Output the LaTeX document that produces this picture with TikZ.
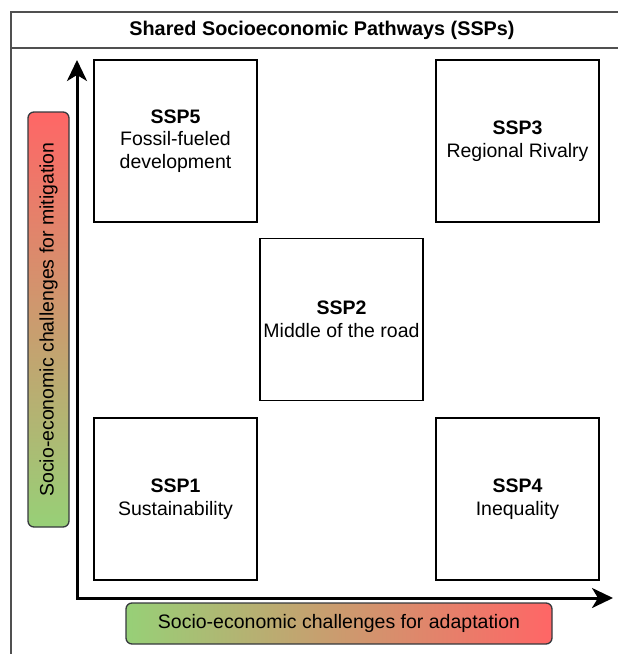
\documentclass[tikz,border=0pt]{standalone}
\usepackage{fontspec}
\setmainfont{Liberation Sans}
\usetikzlibrary{arrows.meta, positioning}
\definecolor{barred}{HTML}{FF6666}
\definecolor{bargreen}{HTML}{97D077}
\definecolor{barline}{HTML}{36393D}
\definecolor{framegray}{HTML}{505050}

\begin{document}
\begin{tikzpicture}[x=1pt, y=-1pt, font=\fontsize{19.5}{22.5}\selectfont]
	\tikzstyle{sspbox} = [draw, line width=1.5pt, minimum width=163pt, minimum height=162pt, inner sep=0pt, align=center]
	\tikzstyle{gradbar} = [draw=barline, line width=1.3pt, rounded corners=6pt, inner sep=0pt]
	\tikzstyle{axis} = [line width=3pt, {Stealth[length=21pt, width=20pt, inset=6pt]}-{Stealth[length=21pt, width=20pt, inset=6pt]}]

	\useasboundingbox (0,0) rectangle (618,654);

	% frame and title
	\draw[framegray, line width=1.4pt] (618,12) -- (11,12) -- (11,654);
	\draw[framegray, line width=1.4pt] (11,48) -- (618,48);
	\node[font=\bfseries\fontsize{19.8}{22}\selectfont] (title) at (322,30) {Shared Socioeconomic Pathways (SSPs)};

	% pathways
	\node[sspbox] (ssp5) at (175.5,141) {\textbf{SSP5}\\Fossil-fueled\\development};
	\node[sspbox] (ssp3) at (517.5,141) {\textbf{SSP3}\\Regional Rivalry};
	\node[sspbox] (ssp2) at (341.5,319.5) {\textbf{SSP2}\\Middle of the road};
	\node[sspbox] (ssp1) at (175.5,499) {\textbf{SSP1}\\Sustainability};
	\node[sspbox] (ssp4) at (517.5,499) {\textbf{SSP4}\\Inequality};

	% axes
	\coordinate (origin) at (77,598);
	\coordinate (ytip) at (77,60);
	\coordinate (xtip) at (613,598);
	\draw[axis] (ytip) -- (origin) -- (xtip);

	% challenge bars
	\node[gradbar, minimum width=415pt, minimum height=41pt, rotate=90, top color=barred, bottom color=bargreen] (mitbar) at (48.5,319.5) {Socio-economic challenges for mitigation};
	\node[gradbar, minimum width=426pt, minimum height=41pt, left color=bargreen, right color=barred] (adabar) at (339,623.5) {Socio-economic challenges for adaptation};
\end{tikzpicture}
\end{document}
